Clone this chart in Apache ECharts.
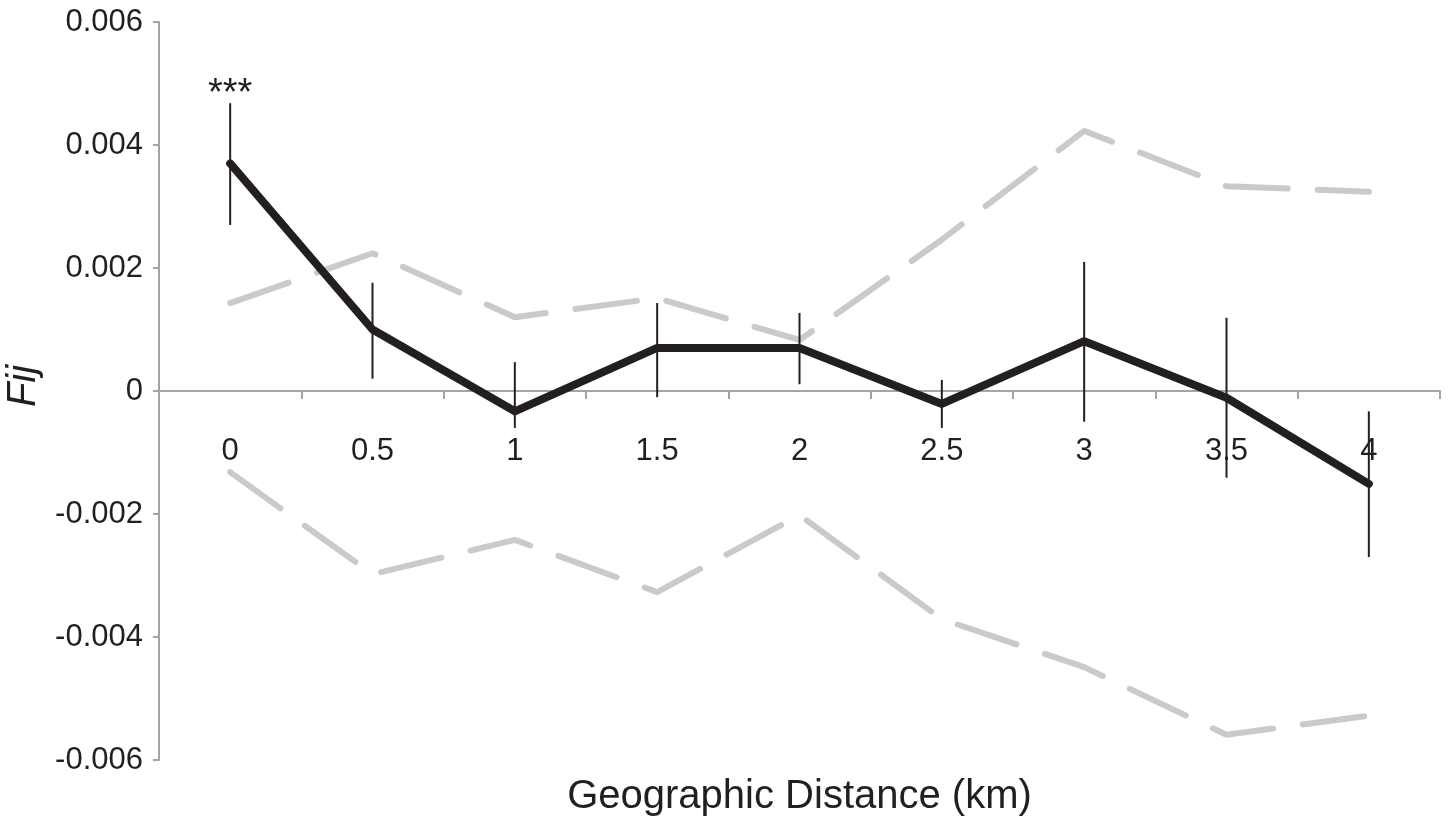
<!DOCTYPE html>
<html>
<head>
<meta charset="utf-8">
<script src="https://cdn.jsdelivr.net/npm/echarts@6/dist/echarts.min.js"></script>
<style>
	html, body {margin: 0; padding: 0; background: #fff;}
	#chart {width: 1448px; height: 816px;}
</style>
</head>
<body>
<div id="chart"></div>
<script>
// distance classes (km)
const distances = ['0', '0.5', '1', '1.5', '2', '2.5', '3', '3.5', '4'];
// observed Fij
const fij = [0.0037, 0.0010, -0.00033, 0.0007, 0.0007, -0.00021, 0.00081, -0.00011, -0.00151];
// error bar ends
const errHigh = [0.00468, 0.00176, 0.00047, 0.00143, 0.00127, 0.00018, 0.0021, 0.00119, -0.00033];
const errLow = [0.0027, 0.0002, -0.0006, -0.0001, 0.00011, -0.0006, -0.0005, -0.00141, -0.0027];
// permutation envelope
const upperCI = [0.00143, 0.00224, 0.0012, 0.00151, 0.00083, 0.00246, 0.00423, 0.00333, 0.00324];
const lowerCI = [-0.00132, -0.00298, -0.00242, -0.00327, -0.00202, -0.00371, -0.00449, -0.00559, -0.00528];
// significance marks
const signif = ['***', '', '', '', '', '', '', '', ''];
const yTicks = [-0.006, -0.004, -0.002, 0, 0.002, 0.004, 0.006];

const font = 'Liberation Sans, Arial, Helvetica, sans-serif';
const axisGray = '#a3a4a6';

let myChart = echarts.init(document.getElementById('chart'));

let errData = distances.map((d, i) => [i, errLow[i], errHigh[i], signif[i]]);

let dashStyle = {
	color: '#c9cacc',
	width: 6,
	type: [62, 30],
	cap: 'round'
};

let option = {
	animation: false,
	grid: {
		left: 159,
		right: 8,
		top: 22,
		bottom: 56,
		containLabel: false,
		outerBoundsMode: 'none'
	},
	xAxis: {
		type: 'category',
		data: distances,
		boundaryGap: true,
		axisLine: {
			onZero: true,
			lineStyle: {color: axisGray, width: 2}
		},
		axisTick: {
			show: true,
			length: 8,
			lineStyle: {color: axisGray, width: 2}
		},
		axisLabel: {
			// labels are laid out from the grid bottom, pull them up under the zero line
			margin: -324,
			fontSize: 31,
			fontFamily: font,
			color: '#231f20'
		},
		name: 'Geographic Distance (km)',
		nameLocation: 'middle',
		nameGap: 17,
		nameTextStyle: {
			fontSize: 40,
			fontFamily: font,
			color: '#231f20'
		},
		splitLine: {show: false}
	},
	yAxis: {
		type: 'value',
		min: -0.006,
		max: 0.006,
		interval: 0.002,
		axisLine: {
			show: true,
			lineStyle: {color: axisGray, width: 2}
		},
		axisTick: {
			show: true,
			length: 6,
			lineStyle: {color: axisGray, width: 2}
		},
		axisLabel: {
			margin: 16,
			fontSize: 31,
			fontFamily: font,
			color: '#231f20',
			formatter: v => {
				let t = yTicks.find(x => Math.abs(x - v) < 1e-9);
				if (t === 0 || Math.abs(v) < 1e-9) return '0';
				return (t !== undefined ? t : v).toFixed(3);
			}
		},
		splitLine: {show: false},
		name: 'Fij',
		nameLocation: 'middle',
		nameGap: 108,
		nameTextStyle: {
			fontSize: 40,
			fontStyle: 'italic',
			fontFamily: font,
			color: '#231f20',
			padding: [0, 0, 0, 10]
		}
	},
	series: [
		{
			name: 'upper',
			type: 'line',
			data: upperCI,
			symbol: 'none',
			lineStyle: dashStyle,
			z: 1
		},
		{
			name: 'lower',
			type: 'line',
			data: lowerCI,
			symbol: 'none',
			lineStyle: dashStyle,
			z: 1
		},
		{
			name: 'Fij',
			type: 'line',
			data: fij,
			symbol: 'none',
			lineStyle: {color: '#231f20', width: 8, join: 'round', cap: 'round'},
			z: 3
		},
		{
			name: 'error',
			type: 'custom',
			data: errData,
			z: 4,
			renderItem: (params, api) => {
				let idx = api.value(0);
				let lo = api.coord([idx, api.value(1)]);
				let hi = api.coord([idx, api.value(2)]);
				let mark = signif[params.dataIndex];
				let children = [{
					type: 'line',
					shape: {x1: lo[0], y1: lo[1], x2: hi[0], y2: hi[1]},
					style: {stroke: '#231f20', lineWidth: 2}
				}];
				if (mark) {
					children.push({
						type: 'text',
						style: {
							text: mark,
							x: hi[0],
							y: hi[1] + 10,
							align: 'center',
							verticalAlign: 'bottom',
							fontSize: 38,
							fontFamily: font,
							fill: '#231f20'
						}
					});
				}
				return {type: 'group', children: children};
			}
		}
	]
};

myChart.setOption(option);
</script>
</body>
</html>
